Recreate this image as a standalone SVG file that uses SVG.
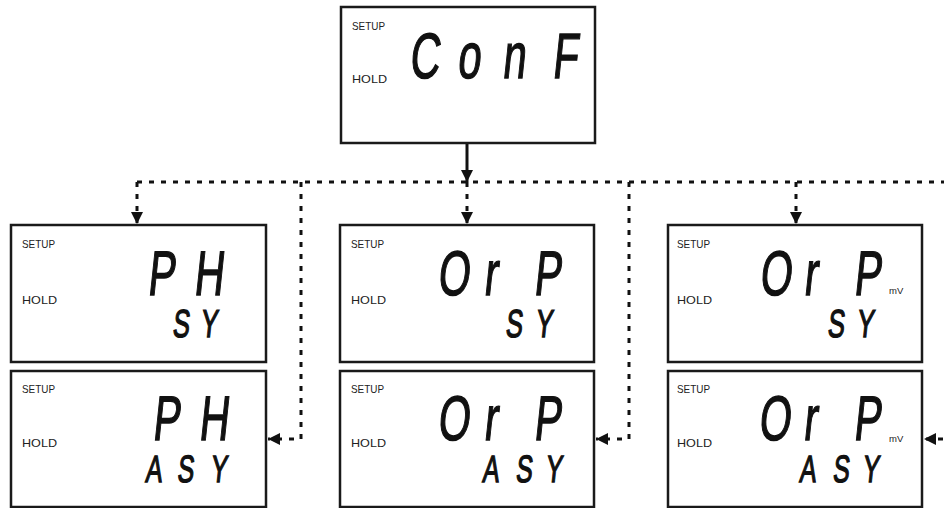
<svg xmlns="http://www.w3.org/2000/svg" width="944" height="508" viewBox="0 0 944 508">
<style>
.box{fill:#fff;stroke:#1a1a1a;stroke-width:2.5}
.lbl{font-family:"Liberation Sans",Arial,sans-serif;font-size:11px;fill:#222}
.unit{font-family:"Liberation Sans",Arial,sans-serif;font-size:9.5px;fill:#222}
.seg{font-family:"Liberation Sans",Arial,sans-serif;font-weight:normal;fill:#111;stroke:#111;stroke-width:1.4}
.big{font-size:63px}
.small{font-size:39px}
.solid{fill:none;stroke:#111;stroke-width:3}
.dot{fill:none;stroke:#111;stroke-width:3;stroke-dasharray:5 7}
</style>
<defs>
<marker id="ah" viewBox="0 0 12 12" refX="12" refY="6" markerWidth="12" markerHeight="12" markerUnits="userSpaceOnUse" orient="auto">
<polygon points="0,0 12,6 0,12" fill="#111"/>
</marker>
</defs>
<rect width="944" height="508" fill="#fff"/>

<g id="connectors">
<path class="solid" d="M467,144 V182" marker-end="url(#ah)"/>
<path class="dot" d="M137,182 H950"/>
<path class="dot" d="M137,182 V224" marker-end="url(#ah)"/>
<path class="dot" d="M467,182 V224" marker-end="url(#ah)"/>
<path class="dot" d="M796,182 V224" marker-end="url(#ah)"/>
<path class="dot" d="M301,182 V439 H268" marker-end="url(#ah)"/>
<path class="dot" d="M629,182 V439 H596" marker-end="url(#ah)"/>
<path class="dot" d="M950,182 V439 H924" marker-end="url(#ah)"/>
</g>

<g id="conf">
<rect class="box" x="341" y="7" width="254" height="136"/>
<text class="lbl" x="352" y="30" textLength="33" lengthAdjust="spacingAndGlyphs">SETUP</text>
<text class="lbl" x="352" y="83" textLength="35" lengthAdjust="spacingAndGlyphs">HOLD</text>
<text class="seg" font-size="64" transform="translate(410,78) skewX(-6) scale(0.65,1)" x="-2 72 141 218">ConF</text>
</g>

<g id="ph-sy">
<rect class="box" x="11" y="225" width="255" height="137"/>
<text class="lbl" x="22" y="248" textLength="33" lengthAdjust="spacingAndGlyphs">SETUP</text>
<text class="lbl" x="22" y="304" textLength="35" lengthAdjust="spacingAndGlyphs">HOLD</text>
<text class="seg big" transform="translate(147,295) skewX(-6) scale(0.65,1)" x="0 71">PH</text>
<text class="seg small" transform="translate(172,337) skewX(-6) scale(0.65,1)" x="0 43">SY</text>
</g>

<g id="ph-asy">
<rect class="box" x="11" y="371" width="255" height="136"/>
<text class="lbl" x="22" y="393" textLength="33" lengthAdjust="spacingAndGlyphs">SETUP</text>
<text class="lbl" x="22" y="447" textLength="35" lengthAdjust="spacingAndGlyphs">HOLD</text>
<text class="seg big" transform="translate(152,440) skewX(-6) scale(0.65,1)" x="0 71">PH</text>
<text class="seg" font-size="38" transform="translate(145,482) skewX(-6) scale(0.65,1)" x="0 49 100">ASY</text>
</g>

<g id="orp-sy">
<rect class="box" x="340" y="225" width="254" height="137"/>
<text class="lbl" x="351" y="248" textLength="33" lengthAdjust="spacingAndGlyphs">SETUP</text>
<text class="lbl" x="351" y="304" textLength="35" lengthAdjust="spacingAndGlyphs">HOLD</text>
<text class="seg big" transform="translate(437,295) skewX(-6) scale(0.65,1)" x="0 71 148">OrP</text>
<text class="seg small" transform="translate(505,337) skewX(-6) scale(0.65,1)" x="0 46">SY</text>
</g>

<g id="orp-asy">
<rect class="box" x="340" y="371" width="254" height="136"/>
<text class="lbl" x="351" y="393" textLength="33" lengthAdjust="spacingAndGlyphs">SETUP</text>
<text class="lbl" x="351" y="447" textLength="35" lengthAdjust="spacingAndGlyphs">HOLD</text>
<text class="seg big" transform="translate(437,440) skewX(-6) scale(0.65,1)" x="0 71 148">OrP</text>
<text class="seg" font-size="38" transform="translate(482,482) skewX(-6) scale(0.65,1)" x="0 51 97">ASY</text>
</g>

<g id="orp-mv-sy">
<rect class="box" x="668" y="225" width="254" height="137"/>
<text class="lbl" x="677" y="248" textLength="33" lengthAdjust="spacingAndGlyphs">SETUP</text>
<text class="lbl" x="677" y="304" textLength="35" lengthAdjust="spacingAndGlyphs">HOLD</text>
<text class="seg big" transform="translate(759,295) skewX(-6) scale(0.65,1)" x="0 68 145">OrP</text>
<text class="unit" x="889" y="294">mV</text>
<text class="seg small" transform="translate(827,337) skewX(-6) scale(0.65,1)" x="0 45">SY</text>
</g>

<g id="orp-mv-asy">
<rect class="box" x="668" y="371" width="254" height="136"/>
<text class="lbl" x="677" y="393" textLength="33" lengthAdjust="spacingAndGlyphs">SETUP</text>
<text class="lbl" x="677" y="447" textLength="35" lengthAdjust="spacingAndGlyphs">HOLD</text>
<text class="seg big" transform="translate(758,440) skewX(-6) scale(0.65,1)" x="0 69 146">OrP</text>
<text class="unit" x="889" y="442">mV</text>
<text class="seg" font-size="38" transform="translate(799,482) skewX(-6) scale(0.65,1)" x="0 51 97">ASY</text>
</g>
</svg>
